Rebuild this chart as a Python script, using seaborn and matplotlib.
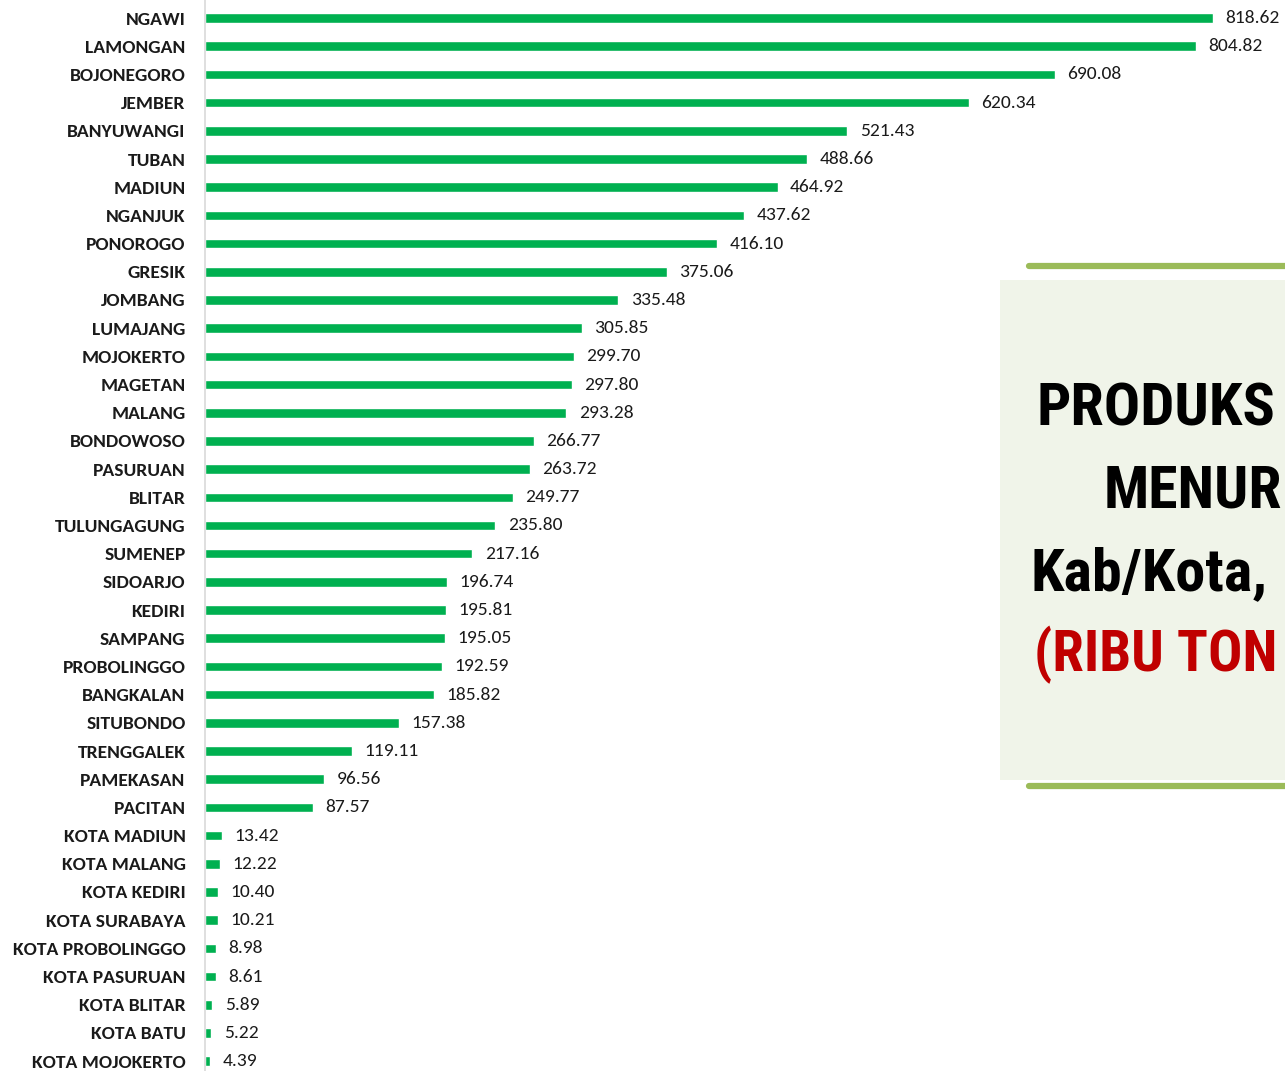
import matplotlib
matplotlib.use("Agg")
import matplotlib.pyplot as plt
import matplotlib.transforms as mtransforms
import seaborn as sns
import pandas as pd
from matplotlib.patches import Rectangle
from matplotlib.lines import Line2D

# Production per regency/city (thousand tons)
regions = [
    'NGAWI', 'LAMONGAN', 'BOJONEGORO', 'JEMBER', 'BANYUWANGI', 'TUBAN', 'MADIUN',
    'NGANJUK', 'PONOROGO', 'GRESIK', 'JOMBANG', 'LUMAJANG', 'MOJOKERTO', 'MAGETAN',
    'MALANG', 'BONDOWOSO', 'PASURUAN', 'BLITAR', 'TULUNGAGUNG', 'SUMENEP', 'SIDOARJO',
    'KEDIRI', 'SAMPANG', 'PROBOLINGGO', 'BANGKALAN', 'SITUBONDO', 'TRENGGALEK',
    'PAMEKASAN', 'PACITAN', 'KOTA MADIUN', 'KOTA MALANG', 'KOTA KEDIRI',
    'KOTA SURABAYA', 'KOTA PROBOLINGGO', 'KOTA PASURUAN', 'KOTA BLITAR',
    'KOTA BATU', 'KOTA MOJOKERTO',
]
production = [
    818.62, 804.82, 690.08, 620.34, 521.43, 488.66, 464.92,
    437.62, 416.10, 375.06, 335.48, 305.85, 299.70, 297.80,
    293.28, 266.77, 263.72, 249.77, 235.80, 217.16, 196.74,
    195.81, 195.05, 192.59, 185.82, 157.38, 119.11,
    96.56, 87.57, 13.42, 12.22, 10.40,
    10.21, 8.98, 8.61, 5.89,
    5.22, 4.39,
]
# title lines as far as they are visible in the picture
title_lines = ['PRODUKS', 'MENUR', 'Kab/Kota,', '(RIBU TON']

df = pd.DataFrame({'region': regions, 'production': production})

sns.set_style('white')
plt.rcParams['font.family'] = ['Carlito', 'DejaVu Sans']

fig = plt.figure(figsize=(12.85, 10.71), dpi=100)
ax = fig.add_axes([205 / 1285, 0, 1 - 205 / 1285, 1])

sns.barplot(data=df, x='production', y='region', orient='h', color='#00B050',
            width=0.34, saturation=1, ax=ax)

labels = ax.bar_label(ax.containers[0], fmt='%.2f', padding=9, fontsize=14, color='#1a1a1a')
shift = mtransforms.ScaledTranslation(0, -1.5 / 72, fig.dpi_scale_trans)
for t in labels:
    t.set_transform(t.get_transform() + shift)

ax.set_xlim(0, 877)
ax.set_ylim(37.35, -0.64)
ax.set_xlabel('')
ax.set_ylabel('')
ax.set_xticks([])
ax.tick_params(axis='y', length=0, pad=14)
for lbl in ax.get_yticklabels():
    lbl.set_fontweight('bold')
    lbl.set_fontsize(14)
    lbl.set_color('#1a1a1a')
for side in ['top', 'right', 'bottom']:
    ax.spines[side].set_visible(False)
ax.spines['left'].set_color('#D9D9D9')
ax.spines['left'].set_linewidth(1.2)

# Title box on the right
fig.patches.append(Rectangle((1000 / 1285, 1 - 780 / 1071), 300 / 1285, 500 / 1071,
                             transform=fig.transFigure, facecolor='#F0F4E9',
                             edgecolor='none', zorder=0))
for yy in [266, 786]:
    fig.lines.append(Line2D([1029 / 1285, 1.0], [1 - yy / 1071] * 2,
                            transform=fig.transFigure, color='#9BBB59', linewidth=4.5))

title_x = [1036, 1104, 1030, 1034]
title_y = [410, 492, 574, 655]
title_sizes = [43.5, 43, 43.5, 41]
title_colors = ['black', 'black', 'black', '#C00000']
for txt, tx, ty, ts, tc in zip(title_lines, title_x, title_y, title_sizes, title_colors):
    fig.text(tx / 1285, 1 - ty / 1071, txt, ha='left', va='center', fontsize=ts,
             fontweight='bold', color=tc,
             family=['Roboto Condensed', 'DejaVu Sans'])

fig.savefig('out.png', dpi=100)
